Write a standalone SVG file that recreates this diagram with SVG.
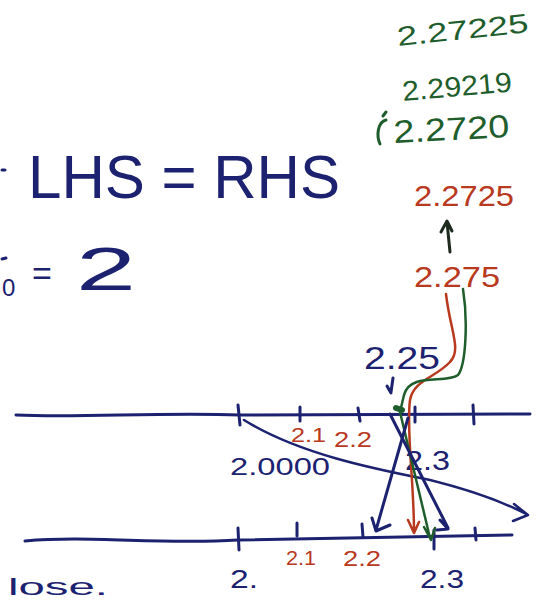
<svg xmlns="http://www.w3.org/2000/svg" width="542" height="602" viewBox="0 0 542 602">
<defs>
<style>
.t{font-family:"Liberation Sans","DejaVu Sans",sans-serif;}
.b{fill:#1c2270;} .r{fill:#b8391e;} .g{fill:#1f5e2c;}
.ln{fill:none;stroke-linecap:round;stroke-linejoin:round;}
.sb{stroke:#1c2270;} .sr{stroke:#b8391e;} .sg{stroke:#1f5e2c;} .sk{stroke:#1d2a1d;}
</style>
</defs>
<rect width="542" height="602" fill="#fff"/>
<!-- green values -->
<text class="t g" x="398" y="46" font-size="27" transform="rotate(-6 398 46)" textLength="132" lengthAdjust="spacingAndGlyphs">2.27225</text>
<text class="t g" x="403" y="101" font-size="28" transform="rotate(-5 403 101)" textLength="110" lengthAdjust="spacingAndGlyphs">2.29219</text>
<path class="ln sg" stroke-width="3" d="M386 120 C378 122 376 135 380 144 M383 116 l3 -4"/>
<text class="t g" x="394" y="143" font-size="32" transform="rotate(-3 394 143)" textLength="116" lengthAdjust="spacingAndGlyphs">2.2720</text>
<!-- equation -->
<path class="ln sb" stroke-width="3" d="M2 170 L5 170"/>
<text class="t b" x="28" y="198" font-size="62" textLength="312" lengthAdjust="spacingAndGlyphs">LHS = RHS</text>
<path class="ln sb" stroke-width="3" d="M2 259 L6 258"/>
<text class="t b" x="2" y="296" font-size="24">0</text>
<text class="t b" x="32" y="285" font-size="34">=</text>
<text class="t b" x="76" y="290" font-size="62" textLength="60" lengthAdjust="spacingAndGlyphs">2</text>
<!-- red top values -->
<text class="t r" x="414" y="206" font-size="30" textLength="100" lengthAdjust="spacingAndGlyphs">2.2725</text>
<text class="t r" x="414" y="287" font-size="30" textLength="86" lengthAdjust="spacingAndGlyphs">2.275</text>
<path class="ln sk" stroke-width="3" d="M450 252 L447 222 M441 232 L447 221 L452 231"/>
<text class="t b" x="364" y="369" font-size="32" textLength="76" lengthAdjust="spacingAndGlyphs">2.25</text>
<!-- number lines -->
<g id="lines">
<path class="ln sb" stroke-width="3" d="M16 415 C80 418 160 412 240 415 L530 414"/>
<path class="ln sb" stroke-width="3" d="M238 405 L240 425 M300 407 L300 421 M358 408 L360 421 M415 407 L415 422 M473 405 L474 424"/>
<path class="ln sb" stroke-width="3" d="M25 541 C90 535 160 545 238 540 L512 535"/>
<path class="ln sb" stroke-width="3" d="M238 528 L239 550 M297 523 L297 536 M362 524 L363 537 M434 530 L434 549 M475 528 L476 540"/>
</g>
<text class="t r" x="291" y="442" font-size="20" textLength="35" lengthAdjust="spacingAndGlyphs">2.1</text>
<text class="t r" x="334" y="447" font-size="22" textLength="38" lengthAdjust="spacingAndGlyphs">2.2</text>
<text class="t b" x="230" y="475" font-size="24" textLength="100" lengthAdjust="spacingAndGlyphs">2.0000</text>
<text class="t b" x="405" y="470" font-size="28" textLength="45" lengthAdjust="spacingAndGlyphs">2.3</text>
<text class="t r" x="286" y="565" font-size="21" textLength="30" lengthAdjust="spacingAndGlyphs">2.1</text>
<text class="t r" x="343" y="566" font-size="22" textLength="38" lengthAdjust="spacingAndGlyphs">2.2</text>
<text class="t b" x="230" y="588" font-size="26" textLength="28" lengthAdjust="spacingAndGlyphs">2.</text>
<text class="t b" x="420" y="588" font-size="26" textLength="44" lengthAdjust="spacingAndGlyphs">2.3</text>
<text class="t b" x="8" y="595" font-size="24" textLength="100" lengthAdjust="spacingAndGlyphs">lose.</text>
<!-- connectors -->
<g id="connectors">
<path class="ln sb" stroke-width="2.5" d="M244 420 C300 455 380 470 430 480 C470 490 500 500 528 515 M514 504 L528 515 L513 521"/>
<path class="ln sb" stroke-width="3" d="M393 378 L391 392 M387 386 L391 393"/>
<path class="ln sr" stroke-width="2.5" d="M446 294 C450 330 462 350 450 362 C435 378 414 380 410 400 C406 430 414 480 414 532 M408 520 L414 533 L419 522"/>
<path class="ln sg" stroke-width="2.5" d="M463 289 C468 320 466 365 458 375 C446 384 410 372 404 395 L400 412 L430 538 M424 527 L431 540 L435 528"/>
<path class="ln sb" stroke-width="3" d="M390 414 L448 528 M440 520 L448 529 L437 530"/>
<path class="ln sb" stroke-width="3" d="M408 418 L376 530 M372 518 L376 531 L390 525"/>
<path class="ln sg" stroke-width="6" d="M396 408 L402 410"/>
</g>
</svg>
